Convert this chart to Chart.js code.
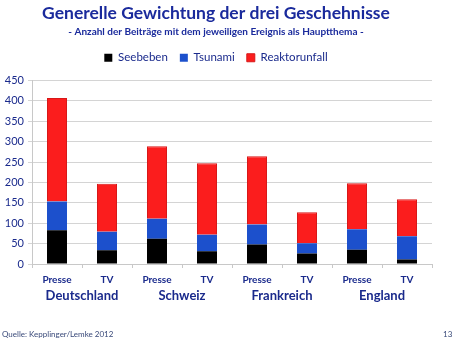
<!DOCTYPE html>
<html>
<head>
<meta charset="utf-8">
<script src="https://cdn.jsdelivr.net/npm/chart.js@4.4.0/dist/chart.umd.min.js"></script>
<style>
  body { margin: 0; background: #fff; }
  #wrap { position: relative; width: 460px; height: 341px; }
  .foot { position: absolute; font-family: Lato, sans-serif; font-size: 8px; color: #3a4a7a; }
</style>
</head>
<body>
<div id="wrap">
  <canvas id="chart" width="460" height="341"></canvas>
  <div class="foot" style="left:2px; top:329px;">Quelle: Kepplinger/Lemke 2012</div>
  <div class="foot" style="left:443px; top:329px;">13</div>
</div>
<script>
const mediaLabels = ['Presse', 'TV', 'Presse', 'TV', 'Presse', 'TV', 'Presse', 'TV'];
const countries = ['Deutschland', 'Schweiz', 'Frankreich', 'England'];
const seebeben = [83, 34, 62, 31, 48, 26, 35, 11];
const tsunami = [70, 45, 49, 41, 49, 25, 50, 57];
const reaktorunfall = [254, 118, 178, 175, 167, 76, 113, 91];

const navy = '#1a2a8c';
const fontName = 'Lato, "Open Sans", sans-serif';

// extra room under the legend
const legendGap = {
    id: 'legendGap',
    beforeInit(chart) {
        const origFit = chart.legend.fit;
        chart.legend.fit = function () {
            origFit.bind(chart.legend)();
            this.height += 7;
        };
    }
};

const ctx = document.getElementById('chart').getContext('2d');
new Chart(ctx, {
    type: 'bar',
    data: {
        labels: mediaLabels,
        datasets: [
            { label: 'Seebeben', data: seebeben, backgroundColor: '#000000', barPercentage: 0.4, categoryPercentage: 1 },
            { label: 'Tsunami', data: tsunami, backgroundColor: '#1c50cc', barPercentage: 0.4, categoryPercentage: 1 },
            { label: 'Reaktorunfall', data: reaktorunfall, backgroundColor: '#fb1d1d', borderColor: '#d81818', borderWidth: 1, borderSkipped: 'bottom', barPercentage: 0.4, categoryPercentage: 1 }
        ]
    },
    options: {
        responsive: false,
        animation: false,
        layout: { padding: { left: 0, right: 28, top: 3, bottom: 32 } },
        plugins: {
            title: {
                display: true,
                text: 'Generelle Gewichtung der drei Geschehnisse',
                color: '#1a2a9c',
                font: { family: fontName, size: 17.5, weight: 'bold' },
                padding: { top: 0, bottom: 2 }
            },
            subtitle: {
                display: true,
                text: '- Anzahl der Beiträge mit dem jeweiligen Ereignis als Hauptthema -',
                color: '#1a2a9c',
                font: { family: fontName, size: 10, weight: 'bold' },
                padding: { top: 0, bottom: 2 }
            },
            legend: {
                labels: {
                    boxWidth: 8,
                    boxHeight: 8,
                    color: navy,
                    font: { family: fontName, size: 11.5 },
                    padding: 12
                }
            },
            tooltip: { enabled: false }
        },
        scales: {
            x: {
                stacked: true,
                afterFit: (axis) => { axis.height = 22; },
                grid: { offset: true, drawOnChartArea: false, tickLength: 4, color: '#c8c8c8' },
                border: { color: '#c8c8c8' },
                ticks: { color: navy, font: { family: fontName, size: 10, weight: 'bold' }, padding: 6 }
            },
            x2: {
                type: 'category',
                labels: countries,
                position: 'bottom',
                afterFit: (axis) => { axis.height = 23; },
                grid: { display: false, drawTicks: false, tickLength: 0 },
                border: { display: false },
                ticks: { color: navy, font: { family: fontName, size: 13, weight: 'bold' }, padding: 2 }
            },
            y: {
                stacked: true,
                min: 0,
                max: 450,
                afterFit: (axis) => { axis.width = 32; },
                ticks: { stepSize: 50, color: navy, font: { family: fontName, size: 11 }, padding: 4 },
                grid: { color: '#d4d4d4', tickLength: 4 },
                border: { color: '#c8c8c8' }
            }
        }
    },
    plugins: [legendGap]
});
</script>
</body>
</html>
